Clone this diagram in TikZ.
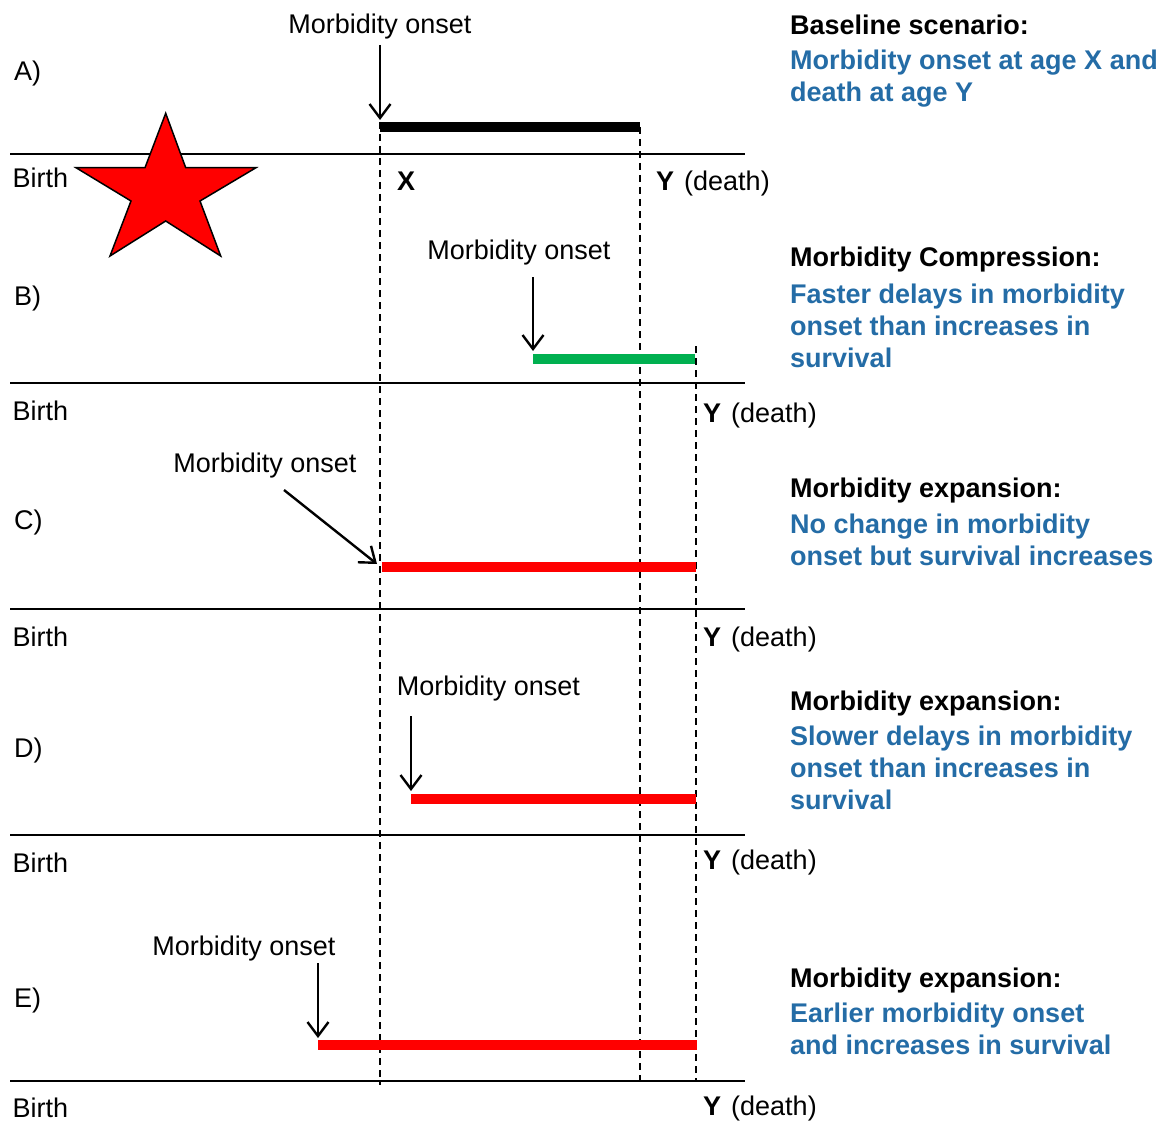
\documentclass[tikz,border=0pt]{standalone}
\usepackage{fontspec}
\setmainfont{Liberation Sans}
\usetikzlibrary{arrows.meta}
\definecolor{txtblue}{RGB}{36,108,166}
\definecolor{bargreen}{RGB}{0,176,80}
\definecolor{barred}{RGB}{255,0,0}
\begin{document}
\begin{tikzpicture}[x=1pt,y=-1pt,
  font=\fontsize{27}{32}\selectfont,
  lbl/.style={inner sep=0pt, anchor=base west},
  onset/.style={inner sep=0pt, anchor=base},
  axisline/.style={line width=2pt},
  vdash/.style={line width=2.2pt, dash pattern=on 7pt off 5pt},
  pointer/.style={line width=2.4pt, -{Straight Barb[length=14pt,width=21pt,line width=2.4pt]}},
  bar/.style={line width=10pt},
  head/.style={lbl, font=\fontsize{27}{32}\selectfont\bfseries},
  desc/.style={head, text=txtblue}]
\useasboundingbox (0,0) rectangle (1163,1121);

% axes
\foreach \n/\y in {1/154,2/383,3/609,4/835,5/1081}{
  \coordinate (al\n) at (10,\y);
  \coordinate (ar\n) at (745,\y);
  \draw[axisline] (al\n) -- (ar\n);
}

% dashed verticals
\coordinate (dxt) at (380,122);
\coordinate (dxb) at (380,1085);
\coordinate (dyt) at (640,127);
\coordinate (dyb) at (640,1085);
\coordinate (dzt) at (696,346);
\coordinate (dzb) at (696,1081);
\draw[vdash] (dxt) -- (dxb);
\draw[vdash] (dyt) -- (dyb);
\draw[vdash] (dzt) -- (dzb);

% bars
\coordinate (bAs) at (380,127);   \coordinate (bAe) at (640,127);
\coordinate (bBs) at (533,359);   \coordinate (bBe) at (695,359);
\coordinate (bCs) at (382,566.5); \coordinate (bCe) at (696,566.5);
\coordinate (bDs) at (411,798.5); \coordinate (bDe) at (696,798.5);
\coordinate (bEs) at (318,1045);  \coordinate (bEe) at (697,1045);
\draw[bar, black] (bAs) -- (bAe);
\draw[bar, bargreen] (bBs) -- (bBe);
\draw[bar, barred] (bCs) -- (bCe);
\draw[bar, barred] (bDs) -- (bDe);
\draw[bar, barred] (bEs) -- (bEe);

% arrows
\coordinate (pAs) at (380,45);  \coordinate (pAe) at (380,120);
\coordinate (pBs) at (533,277); \coordinate (pBe) at (533,351);
\coordinate (pCs) at (284,490); \coordinate (pCe) at (377,564);
\coordinate (pDs) at (411,716); \coordinate (pDe) at (411,791);
\coordinate (pEs) at (318,963); \coordinate (pEe) at (318,1038);
\draw[pointer] (pAs) -- (pAe);
\draw[pointer] (pBs) -- (pBe);
\draw[pointer] (pCs) -- (pCe);
\draw[pointer] (pDs) -- (pDe);
\draw[pointer] (pEs) -- (pEe);

% star
\draw[fill=barred, line width=1.5pt, line join=miter]
  (165.7,113.3) -- (185.7,167.7) -- (256,167.7) -- (200,201) -- (220.7,256)
  -- (165.7,221) -- (110,256) -- (131,201) -- (76,167.7) -- (145,167.7) -- cycle;

% onset labels
\node[onset] (oA) at (380,33.5) {Morbidity onset};
\node[onset] (oB) at (519,259.3) {Morbidity onset};
\node[onset] (oC) at (265,472.3) {Morbidity onset};
\node[onset] (oD) at (488.3,695) {Morbidity onset};
\node[onset] (oE) at (244,955) {Morbidity onset};

% row letters
\node[lbl] (lA) at (14,81) {A)};
\node[lbl] (lB) at (14,305) {B)};
\node[lbl] (lC) at (14,529) {C)};
\node[lbl] (lD) at (14,757) {D)};
\node[lbl] (lE) at (14,1007) {E)};

% birth labels
\node[lbl] (birth1) at (12.5,187.5) {Birth};
\node[lbl] (birth2) at (12.5,420) {Birth};
\node[lbl] (birth3) at (12.5,646) {Birth};
\node[lbl] (birth4) at (12.5,872) {Birth};
\node[lbl] (birth5) at (12.5,1117) {Birth};

% X and Y labels
\node[lbl] (xl) at (397,191) {\bfseries X};
\node[lbl] (y1) at (656,191) {\bfseries Y\hspace{10pt}\mdseries(death)};
\node[lbl] (y2) at (703,422) {\bfseries Y\hspace{10pt}\mdseries(death)};
\node[lbl] (y3) at (703,646) {\bfseries Y\hspace{10pt}\mdseries(death)};
\node[lbl] (y4) at (703,869) {\bfseries Y\hspace{10pt}\mdseries(death)};
\node[lbl] (y5) at (703,1115) {\bfseries Y\hspace{10pt}\mdseries(death)};

% right-hand descriptions
\node[head] (hA) at (790,34.3) {Baseline scenario:};
\node[desc] (dA1) at (790,70) {Morbidity onset at age X and};
\node[desc] (dA2) at (790,101.5) {death at age Y};

\node[head] (hB) at (790,266.7) {Morbidity Compression:};
\node[desc] (dB1) at (790,303) {Faster delays in morbidity};
\node[desc] (dB2) at (790,335) {onset than increases in};
\node[desc] (dB3) at (790,367) {survival};

\node[head] (hC) at (790,497.3) {Morbidity expansion:};
\node[desc] (dC1) at (790,533.3) {No change in morbidity};
\node[desc] (dC2) at (790,565) {onset but survival increases};

\node[head] (hD) at (790,710.7) {Morbidity expansion:};
\node[desc] (dD1) at (790,745) {Slower delays in morbidity};
\node[desc] (dD2) at (790,777) {onset than increases in};
\node[desc] (dD3) at (790,809) {survival};

\node[head] (hE) at (790,987.3) {Morbidity expansion:};
\node[desc] (dE1) at (790,1022) {Earlier morbidity onset};
\node[desc] (dE2) at (790,1054.7) {and increases in survival};
\end{tikzpicture}
\end{document}
